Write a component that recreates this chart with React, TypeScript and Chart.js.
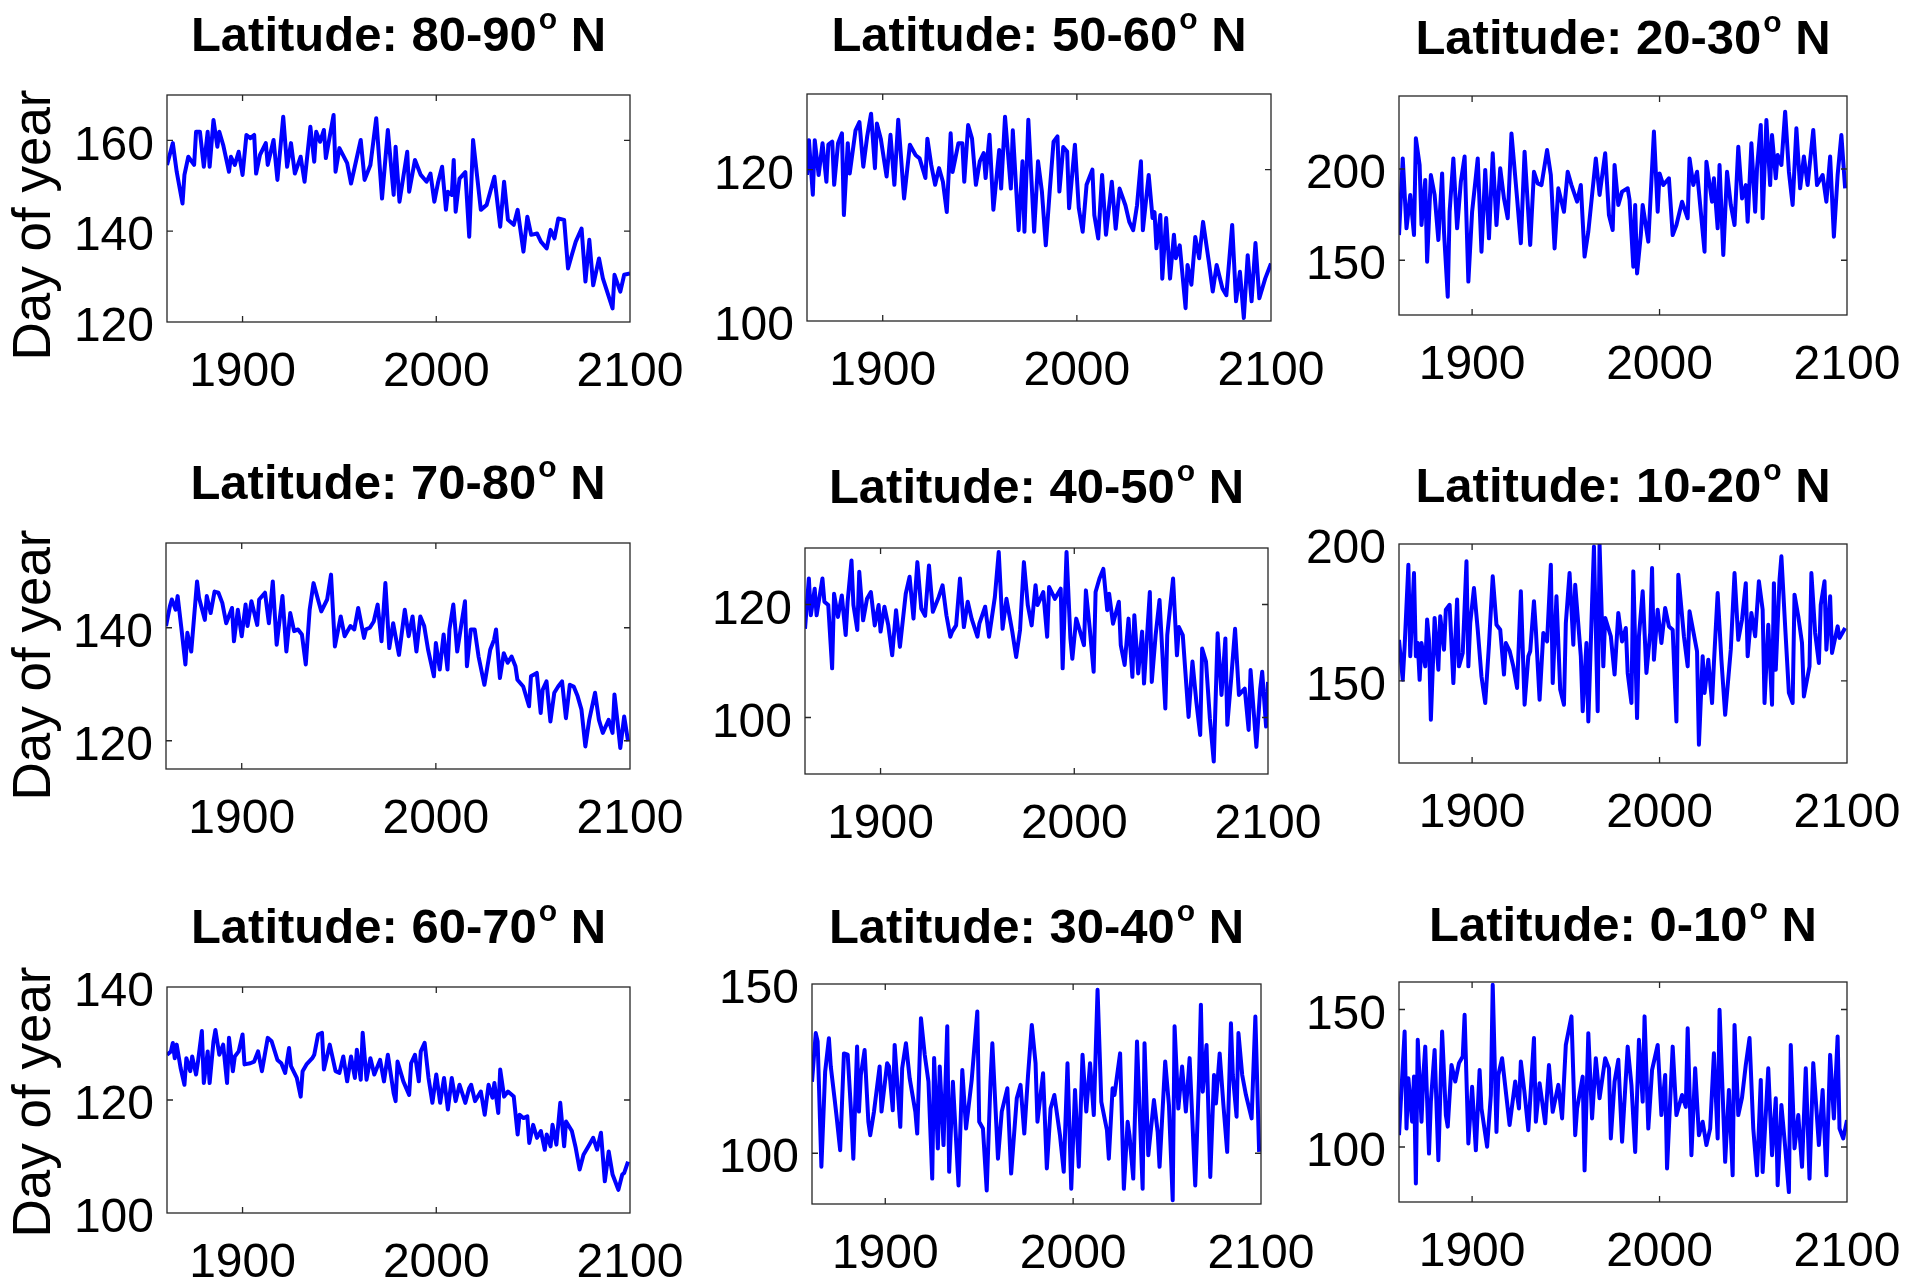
import React, { useEffect, useRef } from "react";
import { Chart, registerables } from "chart.js";

Chart.register(...registerables);

const FONT = '"Liberation Sans", Arial, Helvetica, sans-serif';

// ---------- DATA ----------
const lat8090Years = [1861,1864,1866,1869,1870,1872,1875,1876,1878,1880,1882,1883,1885,1887,1888,1890,1893,1894,1896,1898,1900,1902,1904,1906,1907,1909,1912,1913,1916,1918,1921,1923,1925,1927,1930,1932,1935,1937,1938,1940,1942,1943,1947,1948,1950,1954,1956,1961,1963,1966,1969,1972,1975,1978,1979,1981,1985,1986,1989,1992,1995,1997,1999,2001,2003,2005,2006,2008,2009,2010,2012,2015,2017,2019,2021,2023,2026,2030,2033,2035,2037,2040,2042,2045,2047,2049,2052,2054,2057,2059,2061,2063,2066,2068,2070,2072,2075,2077,2079,2081,2084,2086,2091,2092,2095,2097,2100];
const lat8090Values = [154.6,159.4,153.1,146.1,152.4,156.4,154.6,161.9,161.9,154.2,161.9,154.2,164.5,158.6,161.9,159.0,153.1,156.4,154.6,157.5,152.4,161.2,160.5,161.2,152.7,156.8,159.4,154.6,160.1,151.3,165.2,154.2,159.4,152.7,156.4,150.9,163.0,155.3,161.9,159.7,162.3,156.1,165.6,153.1,158.3,155.0,150.5,160.1,151.3,154.6,164.9,147.2,162.3,148.0,158.6,146.5,157.5,148.7,155.7,152.4,150.9,152.7,146.5,150.9,154.2,144.7,148.7,148.0,155.7,144.3,151.6,153.0,138.8,160.1,152.4,144.7,145.8,152.0,141.0,150.9,142.5,141.4,144.7,135.5,143.2,139.2,139.5,137.7,136.2,140.3,138.4,142.8,142.5,131.8,134.8,137.7,140.6,128.9,138.1,128.1,134.0,129.6,123.0,130.4,126.7,130.4,130.7];

const lat5060Years = [1861,1862,1864,1865,1867,1869,1871,1872,1874,1875,1877,1879,1880,1882,1883,1886,1888,1890,1892,1894,1896,1897,1899,1902,1904,1906,1908,1911,1914,1917,1919,1922,1923,1925,1927,1929,1931,1933,1935,1936,1939,1941,1942,1944,1946,1948,1950,1952,1953,1955,1957,1960,1961,1963,1966,1967,1970,1972,1973,1975,1978,1980,1982,1984,1986,1988,1990,1991,1993,1995,1996,1999,2001,2003,2005,2008,2009,2011,2013,2015,2018,2020,2022,2025,2027,2029,2031,2033,2034,2037,2039,2040,2041,2043,2044,2046,2048,2050,2051,2053,2056,2057,2059,2061,2063,2065,2068,2070,2072,2075,2077,2080,2082,2084,2086,2088,2090,2092,2094,2097,2100];
const lat5060Values = [119.3,123.9,116.7,123.9,119.3,123.5,118.4,123.3,123.7,118.0,123.5,124.8,114.0,123.5,119.5,125.2,126.3,120.4,124.4,127.4,120.2,126.1,124.1,119.1,124.6,118.0,126.6,116.2,123.3,121.9,121.5,118.9,124.1,120.6,118.0,120.2,118.4,114.4,124.8,119.7,123.5,123.5,118.4,125.9,124.1,118.0,121.1,122.2,118.9,124.6,114.7,122.6,117.5,127.0,117.5,125.2,112.0,121.1,111.8,126.6,111.8,121.1,117.1,110.0,117.1,123.7,124.4,117.1,123.0,122.4,114.9,123.3,114.9,111.8,118.0,120.0,114.0,110.9,119.3,111.4,118.4,112.2,117.5,115.3,113.1,112.0,115.3,121.1,112.0,119.3,113.6,114.4,109.6,114.0,105.6,113.6,105.6,111.4,108.3,110.0,101.7,107.4,104.8,111.1,108.3,113.1,107.8,103.9,107.4,104.3,103.4,112.7,102.6,106.5,100.4,108.7,102.6,110.3,103.0,105.6,107.6];

const lat2030Years = [1861,1863,1865,1867,1869,1870,1872,1873,1875,1876,1878,1880,1882,1884,1885,1887,1888,1890,1892,1894,1896,1898,1900,1902,1903,1905,1907,1909,1911,1913,1915,1917,1919,1921,1924,1926,1928,1931,1933,1935,1937,1940,1942,1944,1946,1949,1951,1953,1956,1958,1960,1962,1966,1968,1971,1973,1975,1976,1978,1980,1983,1984,1986,1987,1988,1990,1991,1994,1997,1999,2000,2002,2005,2007,2009,2012,2015,2016,2018,2020,2023,2024,2025,2028,2029,2031,2032,2034,2036,2038,2040,2042,2044,2046,2047,2049,2051,2052,2054,2055,2057,2059,2060,2062,2063,2065,2067,2069,2071,2073,2075,2077,2079,2082,2084,2087,2089,2091,2093,2095,2097,2099];
const lat2030Values = [163.8,205.8,167.5,185.8,163.8,216.8,202.2,169.3,194.0,149.2,196.7,185.8,161.1,197.6,165.7,130.0,176.6,205.8,167.5,193.1,206.8,138.3,176.6,195.8,205.8,154.7,199.5,162.0,208.6,169.3,200.4,183.9,173.0,219.5,183.9,159.3,209.5,158.4,198.5,192.1,191.2,210.4,196.7,156.5,189.4,176.6,198.5,191.2,182.1,191.2,152.0,165.7,205.8,185.8,208.6,174.8,166.6,202.2,180.3,187.6,189.4,183.0,146.5,180.3,142.8,163.8,180.3,160.2,220.5,176.6,197.6,191.2,194.9,163.8,169.3,182.1,173.0,205.8,191.2,198.5,165.7,154.7,204.0,182.1,194.9,167.5,202.2,152.9,198.5,180.3,169.3,212.2,183.9,191.2,171.1,214.1,176.6,200.4,224.1,173.0,226.8,191.2,218.6,194.9,207.7,202.2,231.4,198.5,180.3,222.3,189.4,206.8,191.2,221.4,191.2,196.7,182.1,206.8,162.9,196.7,218.6,189.4];

const lat7080Years = [1861,1863,1864,1866,1867,1869,1871,1872,1874,1877,1878,1881,1882,1884,1886,1888,1890,1892,1895,1896,1898,1900,1902,1903,1905,1908,1909,1912,1914,1916,1918,1921,1923,1925,1927,1929,1931,1933,1935,1937,1940,1941,1944,1946,1948,1951,1953,1956,1958,1960,1963,1964,1966,1968,1970,1972,1974,1976,1978,1981,1984,1986,1988,1990,1992,1994,1996,1999,2000,2002,2004,2006,2007,2009,2011,2013,2015,2016,2018,2020,2022,2025,2028,2030,2031,2033,2035,2037,2039,2041,2042,2045,2048,2049,2052,2054,2055,2057,2059,2061,2063,2065,2067,2069,2071,2073,2075,2077,2079,2082,2084,2086,2089,2091,2092,2094,2095,2097,2099];
const lat7080Values = [140.3,143.8,145.0,143.2,145.6,139.7,133.5,139.1,135.8,148.2,145.3,141.4,145.6,142.6,146.4,146.2,144.4,140.8,143.5,137.6,143.2,138.5,144.1,140.3,144.7,140.5,145.0,146.2,140.8,148.2,137.0,145.6,135.8,142.6,139.4,139.7,138.8,133.5,143.2,147.9,144.1,142.9,145.0,149.4,136.7,142.0,138.5,140.3,139.7,143.5,138.2,139.7,140.0,141.1,144.1,137.6,147.9,136.4,140.8,135.2,143.2,138.5,142.0,135.8,142.0,140.3,136.1,131.4,137.3,132.6,138.8,132.6,139.7,144.1,135.8,140.3,144.7,133.2,139.7,139.7,134.9,129.9,136.1,137.9,139.7,131.1,135.5,133.8,134.9,133.2,130.8,129.6,126.1,131.4,132.0,124.9,129.0,130.5,123.4,128.5,129.6,130.5,124.0,129.9,129.6,127.9,125.5,119.0,123.7,128.5,123.7,121.4,123.7,121.4,128.2,122.0,118.7,124.3,119.9];

const lat4050Years = [1861,1863,1864,1866,1867,1870,1871,1873,1875,1876,1878,1880,1882,1883,1885,1886,1888,1889,1891,1893,1895,1897,1899,1900,1902,1904,1906,1908,1910,1913,1915,1917,1919,1921,1923,1925,1927,1930,1932,1934,1936,1937,1939,1941,1943,1945,1947,1950,1951,1954,1956,1959,1961,1963,1965,1968,1970,1972,1974,1976,1978,1980,1981,1984,1986,1987,1990,1993,1994,1996,1998,1999,2001,2003,2005,2006,2008,2010,2011,2013,2015,2017,2018,2020,2023,2024,2026,2028,2030,2031,2033,2035,2036,2039,2040,2042,2044,2047,2048,2051,2053,2054,2056,2059,2061,2063,2065,2066,2068,2070,2072,2074,2076,2078,2079,2081,2083,2085,2088,2090,2091,2094,2096,2097,2099,2100];
const lat4050Values = [115.7,124.6,118.1,122.8,118.1,124.6,120.5,119.9,108.7,121.9,117.8,121.6,114.6,120.5,127.8,119.9,115.5,125.8,117.2,121.0,122.2,116.3,119.9,115.2,119.6,116.3,111.0,119.0,112.5,121.9,124.9,117.5,127.5,119.3,118.0,126.9,118.7,121.3,123.4,118.1,114.3,115.2,116.3,124.6,116.0,120.5,117.5,114.3,116.6,119.6,114.3,121.3,129.3,115.7,121.0,115.2,110.7,115.5,127.5,119.9,116.3,123.4,119.9,122.2,114.3,123.1,121.0,122.8,108.7,129.3,114.0,110.4,117.5,115.2,112.8,122.5,115.7,108.1,122.2,124.6,126.3,119.0,121.9,116.6,120.5,112.8,109.3,117.5,107.2,118.1,107.8,115.2,106.0,122.2,106.3,114.6,120.8,101.6,114.6,124.6,111.0,116.0,114.6,100.1,109.9,102.8,96.9,112.2,109.9,99.8,92.2,114.9,104.0,114.0,98.7,106.9,115.7,104.0,105.1,97.8,108.4,94.8,105.1,108.1,98.4,106.3];

const lat1020Years = [1861,1863,1864,1866,1867,1869,1870,1871,1872,1873,1875,1876,1877,1878,1880,1882,1883,1885,1886,1888,1890,1892,1893,1895,1897,1898,1899,1901,1903,1905,1907,1909,1911,1913,1915,1917,1918,1920,1922,1924,1926,1928,1930,1931,1933,1934,1936,1938,1940,1942,1943,1945,1947,1949,1950,1952,1954,1955,1958,1959,1961,1962,1964,1965,1967,1968,1970,1971,1974,1976,1978,1980,1982,1983,1985,1986,1988,1989,1991,1993,1995,1996,1997,1999,2001,2003,2005,2007,2009,2010,2013,2015,2016,2017,2020,2021,2023,2024,2026,2028,2029,2031,2033,2035,2038,2040,2042,2044,2046,2047,2049,2051,2053,2055,2056,2058,2060,2061,2062,2064,2065,2067,2069,2071,2072,2074,2076,2077,2080,2081,2083,2085,2086,2088,2089,2091,2092,2095,2096,2099];
const lat1020Values = [165.0,150.4,162.6,192.4,159.0,189.4,159.0,163.8,150.4,163.8,155.3,172.4,165.0,135.8,173.0,154.1,173.6,161.4,176.0,177.8,149.2,179.7,155.3,160.2,193.7,155.3,171.1,183.9,168.7,151.6,141.9,163.2,188.2,170.5,168.7,152.3,163.8,161.0,155.3,147.4,182.7,141.3,159.0,160.8,179.1,168.7,143.1,167.5,164.4,192.4,149.2,180.9,146.8,141.3,171.1,189.4,163.2,185.1,159.0,138.9,163.8,135.2,178.4,199.1,138.9,199.8,155.3,173.0,166.3,152.3,174.8,164.4,169.3,152.9,141.9,190.0,136.4,166.3,182.7,152.9,167.5,191.2,157.7,176.0,163.8,176.6,169.9,168.7,135.2,188.8,166.3,155.3,175.4,171.7,160.8,126.7,159.0,145.6,157.7,141.9,156.5,182.1,157.7,137.6,161.4,189.4,165.0,172.4,185.7,159.0,174.8,166.3,186.4,176.0,141.9,170.5,141.3,185.7,154.1,187.0,195.5,169.9,145.6,141.9,181.5,173.6,163.8,144.3,155.3,189.4,167.5,156.5,177.8,186.4,161.4,180.9,160.2,169.9,165.7,169.3];

const lat6070Years = [1861,1863,1864,1865,1866,1868,1870,1871,1873,1874,1876,1877,1879,1880,1882,1883,1885,1886,1888,1890,1892,1893,1895,1896,1898,1900,1901,1904,1906,1908,1910,1913,1915,1918,1920,1922,1924,1925,1928,1930,1931,1933,1936,1937,1939,1941,1942,1945,1948,1950,1952,1954,1956,1958,1959,1961,1962,1964,1966,1968,1971,1973,1975,1978,1979,1980,1983,1986,1987,1989,1991,1992,1994,1996,1998,2000,2002,2004,2006,2008,2010,2012,2015,2017,2018,2020,2023,2025,2027,2029,2030,2032,2033,2035,2037,2040,2042,2043,2045,2047,2048,2050,2052,2054,2056,2057,2059,2060,2062,2064,2066,2067,2070,2072,2074,2076,2079,2081,2083,2085,2087,2089,2091,2094,2096,2097,2099];
const lat6070Values = [128.0,128.6,130.1,127.4,129.8,125.7,122.7,127.4,125.1,127.7,124.5,126.8,132.2,123.0,128.6,123.0,130.4,132.4,128.0,129.8,123.0,131.0,125.1,127.7,128.6,131.6,126.3,126.5,126.8,128.6,125.1,131.0,130.4,127.1,126.5,124.8,129.2,126.0,123.9,120.6,125.1,126.3,127.4,128.0,131.6,131.9,125.4,129.8,125.1,124.8,127.7,123.3,127.7,123.9,128.9,123.6,131.9,123.6,127.4,124.5,127.1,123.3,128.0,121.2,119.8,126.8,123.3,120.9,126.5,128.0,123.3,128.6,130.1,123.9,119.5,124.5,119.5,123.9,118.3,123.9,119.8,122.7,119.5,122.1,122.7,119.8,121.5,117.4,122.7,120.4,123.0,117.7,125.4,120.6,121.5,120.6,113.9,117.4,116.8,117.1,112.4,115.6,113.3,114.5,111.2,113.9,111.8,115.6,112.1,119.5,111.8,116.2,114.5,111.5,107.7,110.3,112.1,113.3,111.2,114.2,105.6,110.9,106.8,104.1,106.8,107.1,109.1];

const lat3040Years = [1861,1863,1864,1866,1868,1870,1871,1873,1874,1876,1878,1880,1882,1883,1885,1886,1887,1889,1891,1892,1894,1897,1898,1901,1902,1904,1905,1908,1909,1911,1913,1916,1917,1919,1921,1923,1925,1926,1928,1929,1931,1933,1934,1936,1939,1941,1943,1946,1949,1950,1952,1954,1956,1957,1960,1962,1965,1967,1970,1972,1974,1976,1978,1980,1981,1984,1986,1988,1990,1993,1995,1997,1999,2001,2003,2005,2007,2009,2011,2013,2015,2018,2019,2021,2022,2025,2027,2029,2030,2032,2034,2037,2038,2040,2043,2045,2046,2049,2051,2053,2054,2056,2058,2060,2062,2065,2067,2068,2069,2071,2073,2075,2076,2078,2080,2082,2084,2085,2087,2088,2090,2092,2095,2097,2099];
const lat3040Values = [121.1,135.5,133.0,96.0,124.1,134.0,125.6,116.2,111.3,100.9,129.5,129.1,110.3,98.4,131.5,112.3,123.1,130.5,109.3,105.3,112.3,125.6,112.3,126.6,125.6,112.7,132.0,107.8,125.1,132.5,122.1,112.3,105.8,139.9,129.1,121.1,92.5,128.1,101.4,125.6,102.4,137.5,94.5,121.1,90.5,124.6,107.3,121.6,141.9,109.3,107.3,89.0,121.1,132.5,98.4,112.3,119.2,94.0,116.2,120.2,105.8,123.1,137.9,126.6,109.3,123.6,95.5,113.2,117.2,105.3,94.5,126.6,89.5,118.7,96.0,129.1,112.3,126.6,111.3,148.3,115.2,106.8,98.4,119.2,117.2,129.5,89.5,109.3,105.3,92.5,133.0,89.5,132.5,99.4,115.7,106.3,96.0,127.1,114.2,86.1,137.5,113.2,125.6,112.3,128.1,90.5,122.1,143.9,118.2,132.0,93.0,123.1,114.7,129.5,114.2,100.4,138.4,123.1,110.8,135.5,123.1,117.2,110.3,140.4,100.4];

const lat0010Years = [1861,1864,1865,1866,1868,1869,1870,1871,1873,1874,1875,1877,1878,1880,1882,1884,1886,1887,1889,1891,1893,1895,1896,1898,1900,1902,1904,1905,1908,1910,1911,1913,1914,1916,1918,1920,1923,1925,1926,1928,1930,1933,1934,1936,1939,1941,1943,1946,1948,1950,1953,1955,1956,1959,1960,1962,1964,1966,1968,1971,1973,1974,1976,1978,1980,1983,1985,1987,1989,1991,1992,1994,1996,1999,2001,2003,2004,2007,2009,2012,2014,2015,2017,2019,2021,2023,2025,2027,2029,2031,2032,2035,2037,2039,2040,2042,2044,2046,2048,2050,2052,2054,2055,2058,2060,2062,2063,2065,2067,2069,2070,2072,2074,2076,2078,2080,2082,2085,2087,2089,2091,2093,2095,2096,2098,2100];
const lat0010Values = [104.3,142.0,106.7,125.0,109.2,125.6,86.7,139.0,109.2,126.2,136.5,97.6,116.5,135.3,95.2,142.0,111.6,107.4,129.8,123.8,130.5,132.9,148.1,101.3,121.9,98.8,128.0,114.0,100.1,118.9,159.0,105.5,126.2,132.3,120.1,108.0,123.8,114.0,131.1,119.5,106.1,139.6,109.2,123.2,108.6,129.8,112.8,122.6,110.4,137.1,147.5,104.3,114.0,125.6,91.5,141.4,110.4,132.3,117.7,132.3,128.6,103.1,123.8,131.7,101.9,136.5,122.6,98.2,139.0,116.5,147.5,106.7,128.0,137.1,111.6,126.2,92.2,136.5,111.6,118.9,114.6,143.2,97.0,128.6,104.3,109.2,100.7,106.7,134.1,103.1,149.9,94.6,120.7,89.7,144.4,111.6,118.0,129.8,139.6,106.7,89.7,124.4,90.9,128.6,97.0,117.7,86.1,115.3,100.1,83.6,137.1,99.5,111.6,92.8,128.6,88.5,130.5,100.7,120.7,89.7,133.5,110.4,140.2,106.7,103.1,109.8];

// panel order: row by row
const seriesYears = [lat8090Years, lat5060Years, lat2030Years, lat7080Years, lat4050Years, lat1020Years, lat6070Years, lat3040Years, lat0010Years];
const seriesValues = [lat8090Values, lat5060Values, lat2030Values, lat7080Values, lat4050Values, lat1020Values, lat6070Values, lat3040Values, lat0010Values];
const latBands = ["80-90", "50-60", "20-30", "70-80", "40-50", "10-20", "60-70", "30-40", "0-10"];

const xTickValues = [1900, 2000, 2100];
const xMin = 1861;
const xMax = 2100;
const yTickValues = [[120, 140, 160], [100, 120], [150, 200], [120, 140], [100, 120], [150, 200], [100, 120, 140], [100, 150], [100, 150]];
const yMins = [120, 100, 120, 115, 90, 120, 100, 85, 80];
const yMaxs = [170, 130, 240, 155, 130, 200, 140, 150, 160];
const yAxisTitle = "Day of year";

// ---------- LAYOUT ----------
const boxes = [
  [167, 95, 630, 322], [807, 94, 1271, 321], [1399, 96, 1847, 315],
  [166, 543, 630, 769], [805, 548, 1268, 774], [1399, 544, 1847, 763],
  [167, 987, 630, 1213], [812, 984, 1261, 1204], [1399, 982, 1847, 1202],
];
const titleCapCenterOffset = [-61.5, -61, -59.5, -61.5, -63, -59.5, -61.5, -58.5, -59];
const yLabelCenterY: (number | null)[] = [225, null, null, 665, null, null, 1102, null, null];
const Y_LABEL_BASELINE_X = 50;
const PAD_L = 170, PAD_T = 95, PAD_R = 90, PAD_B = 70;
const TICK_FONT = 48;

const framePlugin = {
  id: "frame",
  afterDatasetsDraw(chart: any, _args: any, opts: any) {
    const { ctx, chartArea: a, scales } = chart;
    ctx.save();
    ctx.strokeStyle = "#262626";
    ctx.lineWidth = 1.3;
    ctx.strokeRect(a.left, a.top, a.right - a.left, a.bottom - a.top);
    const tl = 6;
    ctx.beginPath();
    for (const t of scales.x.ticks) {
      const px = scales.x.getPixelForValue(t.value);
      if (px <= a.left + 1 || px >= a.right - 1) continue;
      ctx.moveTo(px, a.bottom); ctx.lineTo(px, a.bottom - tl);
      ctx.moveTo(px, a.top); ctx.lineTo(px, a.top + tl);
    }
    for (const t of scales.y.ticks) {
      const py = scales.y.getPixelForValue(t.value);
      if (py <= a.top + 1 || py >= a.bottom - 1) continue;
      ctx.moveTo(a.left, py); ctx.lineTo(a.left + tl, py);
      ctx.moveTo(a.right, py); ctx.lineTo(a.right - tl, py);
    }
    ctx.stroke();

    // title with superscript degree "o"
    ctx.fillStyle = "#000";
    ctx.textBaseline = "alphabetic";
    ctx.textAlign = "left";
    const mainFont = `bold 49px ${FONT}`;
    const supFont = `bold 30px ${FONT}`;
    const main = `Latitude: ${opts.band}`;
    const sup = "o";
    const tail = " N";
    ctx.font = mainFont;
    const w1 = ctx.measureText(main).width;
    const w3 = ctx.measureText(tail).width;
    ctx.font = supFont;
    const w2 = ctx.measureText(sup).width + 2;
    const total = w1 + w2 + w3;
    const cx = (a.left + a.right) / 2;
    const x0 = cx - total / 2;
    const baseY = a.top + opts.titleOffset + 17.5;
    ctx.font = mainFont;
    ctx.fillText(main, x0, baseY);
    ctx.font = supFont;
    ctx.fillText(sup, x0 + w1 + 2, baseY - 22);
    ctx.font = mainFont;
    ctx.fillText(tail, x0 + w1 + w2, baseY);

    if (opts.ylabel) {
      ctx.save();
      ctx.translate(opts.ylabelX, opts.ylabelY);
      ctx.rotate(-Math.PI / 2);
      ctx.font = `53px ${FONT}`;
      ctx.textAlign = "center";
      ctx.textBaseline = "alphabetic";
      ctx.fillText(opts.ylabel, 0, 0);
      ctx.restore();
    }
    ctx.restore();
  },
};

function Panel({ idx }: { idx: number }) {
  const ref = useRef<HTMLCanvasElement>(null);
  const [L, T, R, B] = boxes[idx];
  const w = R - L + PAD_L + PAD_R;
  const h = B - T + PAD_T + PAD_B;
  const left = L - PAD_L;
  const top = T - PAD_T;

  useEffect(() => {
    const canvas = ref.current;
    if (!canvas) return;
    const years = seriesYears[idx];
    const vals = seriesValues[idx];
    const points = years.map((yr, i) => ({ x: yr, y: vals[i] }));
    const yc = yLabelCenterY[idx];
    const chart = new Chart(canvas, {
      type: "line",
      data: {
        datasets: [
          {
            data: points,
            borderColor: "#0000ff",
            borderWidth: 4,
            pointRadius: 0,
            tension: 0,
            fill: false,
            borderJoinStyle: "round",
          } as any,
        ],
      },
      options: {
        responsive: false,
        maintainAspectRatio: false,
        animation: false,
        devicePixelRatio: 1,
        events: [],
        layout: { padding: { left: 0, top: PAD_T, right: PAD_R, bottom: 0 } },
        plugins: {
          legend: { display: false },
          tooltip: { enabled: false },
          title: { display: false },
          frame: {
            band: latBands[idx],
            titleOffset: titleCapCenterOffset[idx],
            ylabel: yc == null ? "" : yAxisTitle,
            ylabelX: Y_LABEL_BASELINE_X - left,
            ylabelY: yc == null ? 0 : yc - top,
          },
        } as any,
        scales: {
          x: {
            type: "linear",
            min: xMin,
            max: xMax,
            afterBuildTicks: (s: any) => {
              s.ticks = xTickValues.map((v) => ({ value: v }));
            },
            afterFit: (s: any) => {
              s.height = PAD_B;
            },
            grid: { display: false, drawTicks: false },
            border: { display: false },
            ticks: {
              color: "#000",
              font: { family: FONT, size: TICK_FONT },
              padding: 22,
              maxRotation: 0,
              autoSkip: false,
              callback: (v: any) => String(v),
            },
          },
          y: {
            type: "linear",
            min: yMins[idx],
            max: yMaxs[idx],
            afterBuildTicks: (s: any) => {
              s.ticks = yTickValues[idx].map((v) => ({ value: v }));
            },
            afterFit: (s: any) => {
              s.width = PAD_L;
            },
            grid: { display: false, drawTicks: false },
            border: { display: false },
            ticks: {
              color: "#000",
              font: { family: FONT, size: TICK_FONT },
              padding: 13,
              labelOffset: 6,
              autoSkip: false,
              callback: (v: any) => String(v),
            },
          },
        },
      } as any,
      plugins: [framePlugin as any],
    });
    return () => chart.destroy();
  }, [idx]);

  return (
    <canvas
      ref={ref}
      width={w}
      height={h}
      style={{ position: "absolute", left, top, width: w, height: h, display: "block" }}
    />
  );
}

export default function App() {
  return (
    <div
      style={{
        position: "absolute",
        left: 0,
        top: 0,
        width: 1920,
        height: 1284,
        overflow: "hidden",
        background: "#ffffff",
      }}
    >
      {boxes.map((_, i) => (
        <Panel key={i} idx={i} />
      ))}
    </div>
  );
}
